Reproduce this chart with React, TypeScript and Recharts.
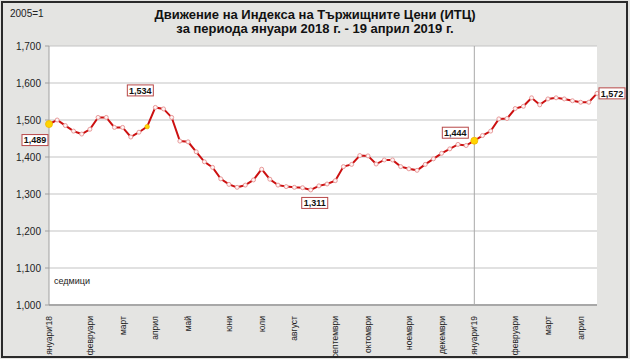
import React from "react";
import {
  LineChart,
  Line,
  XAxis,
  YAxis,
  CartesianGrid,
  ReferenceLine,
  LabelList,
} from "recharts";

// Weekly index values, January 2018 – 19 April 2019
const indexValues = [
  1489, 1500, 1485, 1470, 1462, 1475, 1507, 1507, 1480, 1480, 1454, 1467, 1482,
  1534, 1530, 1507, 1443, 1441, 1414, 1387, 1372, 1341, 1326, 1318, 1324, 1338,
  1367, 1340, 1324, 1320, 1318, 1317, 1311, 1322, 1327, 1336, 1374, 1380, 1404,
  1403, 1381, 1392, 1392, 1374, 1368, 1364, 1380, 1395, 1410, 1422, 1434, 1431,
  1444, 1458, 1470, 1503, 1504, 1531, 1537, 1560, 1541, 1557, 1560, 1557, 1552,
  1548, 1548, 1572,
];

const monthLabels = [
  "януари'18", "февруари", "март", "април", "май", "юни", "юли", "август",
  "септември", "октомври", "ноември", "декември", "януари'19", "февруари",
  "март", "април",
];
const monthTickIdx = [0, 5, 9, 13, 17, 22, 26, 30, 35, 39, 44, 48, 52, 57, 61, 65];

const yTicks = [1000, 1100, 1200, 1300, 1400, 1500, 1600, 1700];

const labeledIdx = [0, 13, 32, 52, 67];
const highlightIdx = [0, 12, 52];
const yearBreakIdx = 52;

const data = indexValues.map((v, i) => ({ i, v }));

const LABEL_OFFSETS: Record<number, [number, number]> = {
  0: [-14, 16],
  13: [-15, -17],
  32: [4, 13],
  52: [-19, -8],
  67: [15, 0],
};

const FONT = "'Liberation Sans', Arial, sans-serif";

const fmt = (n: number) => n.toLocaleString("en-US");

const MonthTick = (props: any) => {
  const { x, y, payload } = props;
  const k = monthTickIdx.indexOf(payload.value);
  const label = k >= 0 ? monthLabels[k] : "";
  return (
    <g transform={`translate(${x},${y})`}>
      <text
        transform="rotate(-90)"
        x={-3}
        dy="0.35em"
        textAnchor="end"
        fontSize={8.5}
        fontFamily={FONT}
        fill="#222"
      >
        {label}
      </text>
    </g>
  );
};

const Dot = (props: any) => {
  const { cx, cy, index } = props;
  if (cx == null || cy == null) return null;
  if (highlightIdx.includes(index)) {
    const r = index === 12 ? 2.2 : 3.5;
    return <circle cx={cx} cy={cy} r={r} fill="#ffd400" stroke="#f0b800" strokeWidth={0.8} />;
  }
  return <circle cx={cx} cy={cy} r={2} fill="#fff4f4" stroke="#e89a9a" strokeWidth={1} />;
};

const ValueLabel = (props: any) => {
  const { x, y, index, value } = props;
  if (!labeledIdx.includes(index)) return null;
  const [dx, dy] = LABEL_OFFSETS[index] || [0, -12];
  const cx = x + dx;
  const cy = y + dy;
  return (
    <g>
      <rect x={cx - 13} y={cy - 5.5} width={26} height={11} fill="#fff" stroke="#b84848" strokeWidth={1} />
      <text
        x={cx}
        y={cy}
        dy="0.35em"
        textAnchor="middle"
        fontSize={9}
        fontWeight="bold"
        fontFamily={FONT}
        fill="#111"
      >
        {fmt(value)}
      </text>
    </g>
  );
};

export default function App() {
  return (
    <div
      style={{
        position: "absolute",
        left: 0,
        top: 0,
        width: 630,
        height: 359,
        background: "#e4e4e2",
        overflow: "hidden",
        fontFamily: FONT,
      }}
    >
      <div
        style={{
          position: "absolute",
          left: 1,
          top: 1,
          width: 627,
          height: 357,
          border: "2px solid #2a2a2a",
          boxSizing: "border-box",
        }}
      />
      <div style={{ position: "absolute", left: 10, top: 8, fontSize: 10, color: "#222" }}>2005=1</div>
      <div
        style={{
          position: "absolute",
          left: 0,
          width: 630,
          top: 8,
          textAlign: "center",
          fontSize: 13,
          fontWeight: "bold",
          lineHeight: "14px",
          color: "#111",
        }}
      >
        <div>Движение на Индекса на Тържищните Цени (ИТЦ)</div>
        <div>за периода януари 2018 г. - 19 април 2019 г.</div>
      </div>
      <div style={{ position: "absolute", left: 0, top: 0 }}>
        <LineChart
          width={630}
          height={359}
          data={data}
          margin={{ top: 46, right: 33, bottom: 0, left: 0 }}
        >
          <CartesianGrid horizontal vertical={false} stroke="#c4c4c4" strokeWidth={1.2} fill="#ffffff" />
          <XAxis
            dataKey="i"
            type="number"
            domain={[0, indexValues.length - 1]}
            ticks={monthTickIdx}
            interval={0}
            tickLine={false}
            height={54}
            axisLine={{ stroke: "#a8a8a8", strokeWidth: 2 }}
            tick={<MonthTick />}
          />
          <YAxis
            domain={[1000, 1700]}
            ticks={yTicks}
            width={49}
            tickSize={4}
            tickMargin={4}
            tickFormatter={fmt}
            axisLine={{ stroke: "#a0a0a0" }}
            tickLine={{ stroke: "#a0a0a0" }}
            tick={{ fontSize: 10, fill: "#222", fontFamily: FONT }}
          />
          <YAxis
            yAxisId="r"
            orientation="right"
            width={0}
            tick={false}
            tickLine={false}
            axisLine={{ stroke: "#a8a8a8", strokeWidth: 2 }}
          />
          <ReferenceLine x={yearBreakIdx} stroke="#a8a8a8" strokeWidth={1} />
          <Line
            type="linear"
            dataKey="v"
            stroke="#cc1010"
            strokeWidth={2}
            dot={<Dot />}
            activeDot={false}
            isAnimationActive={false}
          >
            <LabelList dataKey="v" content={<ValueLabel />} />
          </Line>
        </LineChart>
      </div>
      <div style={{ position: "absolute", left: 54, top: 276, fontSize: 9, color: "#222" }}>седмици</div>
    </div>
  );
}
